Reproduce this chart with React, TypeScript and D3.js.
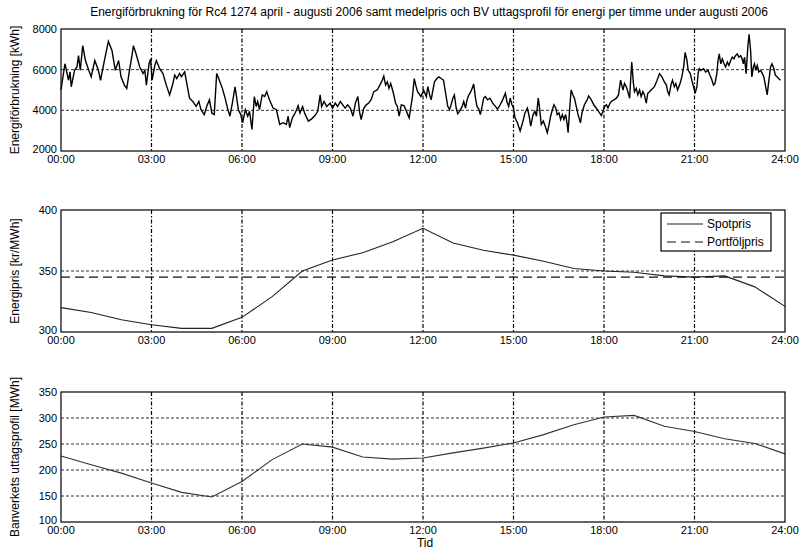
import React from "react";
import * as d3 from "d3";

const TITLE = "Energiförbrukning för Rc4 1274 april - augusti 2006 samt medelpris och BV uttagsprofil för energi per timme under augusti 2006";
const X_TICKS = [0, 3, 6, 9, 12, 15, 18, 21, 24];
const X_TICK_LABELS = ["00:00", "03:00", "06:00", "09:00", "12:00", "15:00", "18:00", "21:00", "24:00"];

const ENERGY_TICKS = [2000, 4000, 6000, 8000];
const PRICE_TICKS = [300, 350, 400];
const PROFILE_TICKS = [100, 150, 200, 250, 300, 350];

// [hour, kWh]
const energy: [number, number][] = [
  [0.00,5000],[0.13,6290],[0.25,5480],[0.30,5890],[0.34,5160],[0.45,5970],[0.53,6130],[0.58,6690],[0.64,5970],[0.72,7180],[0.81,6450],[0.92,5970],[1.00,5650],[1.12,6450],[1.24,5970],[1.31,5480],[1.46,6610],[1.57,7390],[1.69,6940],[1.80,5970],[1.91,6450],[1.99,5650],[2.10,5240],[2.18,5080],[2.27,5970],[2.36,6770],[2.40,7180],[2.49,6770],[2.61,6130],[2.72,5810],[2.78,5970],[2.83,5240],[2.92,6290],[2.97,6530],
  [3.02,5480],[3.11,6210],[3.16,6450],[3.27,6050],[3.38,5810],[3.49,5240],[3.60,4760],[3.71,5320],[3.77,5730],[3.84,5560],[3.93,5810],[3.99,5650],[4.10,5890],[4.15,5480],[4.26,4600],[4.37,4440],[4.48,4190],[4.57,4440],[4.64,4030],[4.75,3790],[4.83,4190],[4.92,4520],[5.00,3870],[5.08,3790],[5.16,5810],[5.25,5480],[5.35,5080],[5.44,4600],[5.52,4110],[5.60,3710],[5.68,4350],[5.77,5160],[5.88,4030],[5.96,3790],
  [6.02,3390],[6.11,4030],[6.19,3710],[6.25,3950],[6.33,3060],[6.41,4680],[6.47,4190],[6.52,4435],[6.58,4030],[6.67,4760],[6.75,4680],[6.82,4920],[6.91,4520],[7.03,4110],[7.14,4030],[7.19,3710],[7.25,3310],[7.36,3390],[7.47,3310],[7.53,3710],[7.58,3150],[7.67,3630],[7.75,3840],[7.81,4030],[7.86,4230],[7.92,3870],[8.01,4190],[8.08,3840],[8.20,3470],[8.31,3580],[8.42,3740],[8.51,3950],[8.59,4760],[8.64,4190],[8.72,4435],[8.81,4190],[8.92,4355],[9.00,4110],[9.09,4355],[9.17,4190],[9.26,4435],[9.34,4270],[9.42,4110],[9.50,4270],[9.59,4110],[9.68,3710],[9.76,4355],[9.84,4680],[9.90,3900],[9.95,3550],[10.04,4110],[10.12,4270],[10.20,4355],[10.28,4520],[10.37,4920],[10.48,5000],[10.57,5240],[10.65,5480],[10.70,5680],[10.76,5240],[10.82,5400],[10.87,5080],[10.93,5320],[11.02,4840],[11.09,4355],[11.15,4190],[11.21,3710],[11.28,4270],[11.37,4230],[11.45,3950],[11.54,3630],[11.60,4190],[11.65,4680],[11.71,5560],[11.76,5240],[11.82,4920],[11.93,4680],[12.02,5000],
  [12.11,4677],[12.16,5161],[12.22,4758],[12.27,4516],[12.33,5000],[12.38,5403],[12.46,5565],[12.53,5645],[12.60,5565],[12.68,5484],[12.75,4839],[12.82,4194],[12.88,4032],[12.93,4274],[12.99,4597],[13.04,4758],[13.10,4113],[13.15,3839],[13.21,3952],[13.30,4194],[13.35,4435],[13.41,4113],[13.46,4516],[13.52,4758],[13.56,4839],[13.63,5081],[13.68,5290],[13.74,4597],[13.79,4194],[13.85,4064],[13.90,3790],[13.96,4194],[14.01,4597],[14.07,4677],[14.14,4516],[14.22,4597],[14.31,4355],[14.40,4194],[14.47,4064],[14.56,4274],[14.64,4516],[14.73,4839],[14.78,4435],[14.84,4194],[14.89,4597],[14.95,4274],[15.00,4113],[15.05,3629],[15.13,3387],[15.22,2984],[15.30,3387],[15.38,3871],[15.46,4113],[15.52,3710],[15.57,3226],[15.65,3790],[15.71,3952],[15.76,3710],[15.82,4597],[15.87,4032],[15.92,3306],[15.99,3468],[16.07,3145],[16.12,2903],[16.18,3306],[16.23,3710],[16.29,4032],[16.34,4274],[16.40,4113],[16.45,3790],[16.51,3871],[16.56,3548],[16.62,3790],[16.67,3548],[16.73,3790],[16.78,3306],[16.81,2903],[16.86,4032],[16.91,5000],[16.97,4758],[17.02,4597],[17.08,4194],[17.14,3790],[17.22,3387],[17.27,3871],[17.35,4274],[17.44,4516],[17.49,4710],[17.58,4516],[17.66,4274],[17.74,4113],[17.82,3952],[17.91,3742],[17.99,4032],
  [18.02,4194],[18.08,4274],[18.13,4113],[18.19,4322],[18.24,4435],[18.33,4516],[18.41,4597],[18.48,4758],[18.55,5484],[18.59,5242],[18.63,5000],[18.68,5323],[18.74,5161],[18.79,4919],[18.85,4597],[18.88,5403],[18.92,6371],[18.97,5403],[19.01,4919],[19.07,5081],[19.12,4758],[19.18,5000],[19.23,4677],[19.29,4919],[19.34,4758],[19.40,4355],[19.45,4839],[19.51,4919],[19.56,5000],[19.62,5081],[19.67,5161],[19.76,5484],[19.84,5806],[19.92,5645],[20.00,5403],[20.07,5242],[20.11,4919],[20.16,4758],[20.22,5242],[20.27,5484],[20.33,5161],[20.38,5323],[20.44,5000],[20.52,5323],[20.58,5645],[20.64,6129],[20.69,6855],[20.75,6452],[20.79,5968],[20.86,5806],[20.91,5484],[20.97,5161],[21.02,4839],[21.08,5161],[21.12,5806],[21.16,6048],[21.21,5968],[21.30,6048],[21.37,5887],[21.45,5968],[21.51,5726],[21.56,5565],[21.63,5242],[21.68,5323],[21.74,5806],[21.78,6452],[21.82,6774],[21.87,6290],[21.92,6532],[21.98,6290],[22.03,6129],[22.09,6371],[22.14,6210],[22.20,6452],[22.25,6613],[22.31,6532],[22.36,6694],[22.42,6774],[22.47,6613],[22.53,6694],[22.58,6532],[22.62,6290],[22.66,6613],[22.71,5806],[22.77,7177],[22.81,7742],[22.86,6935],[22.90,5645],[22.95,6129],[22.99,6290],[23.03,5968],[23.08,6210],[23.13,5887],[23.19,5968],[23.25,5806],[23.30,5645],[23.35,5242],[23.41,4758],[23.46,5403],[23.52,6129],[23.57,6290],[23.63,6048],[23.68,5726],[23.74,5645],[23.79,5565],[23.85,5484],
];

const hours = d3.range(0, 25);
const spotPrice = [320, 316, 310, 306, 303, 303, 312, 329, 350, 359, 365, 374, 385, 373, 367, 363, 358, 352, 350, 349, 346, 345, 346, 337, 321];
const portfolioPrice = 345;
const profile = [227, 210, 194, 175, 157, 148, 178, 220, 250, 244, 225, 221, 223, 233, 242, 252, 268, 287, 302, 305, 284, 274, 260, 251, 231];

const FONT = "'Liberation Sans', Arial, sans-serif";

const X0 = 61, X1 = 785;
const x = d3.scaleLinear().domain([0, 24]).range([X0, X1]);

type PanelProps = {
  y: d3.ScaleLinear<number, number>;
  yTicks: number[];
  hGrid: number[];
  ylabel: string;
  children?: React.ReactNode;
};

function Panel({ y, yTicks, hGrid, ylabel, children }: PanelProps) {
  const [yb, yt] = y.range();
  const cy = (yb + yt) / 2;
  return (
    <g>
      {hGrid.map((v) => (
        <line key={"h" + v} x1={X0} x2={X1} y1={y(v)} y2={y(v)} stroke="#333" strokeWidth={1} strokeDasharray="3,2" />
      ))}
      {X_TICKS.slice(1, -1).map((t) => (
        <line key={"v" + t} x1={x(t)} x2={x(t)} y1={yt} y2={yb} stroke="#000" strokeWidth={1.2} strokeDasharray="4,2,1.5,2" />
      ))}
      {children}
      <rect x={X0} y={yt} width={X1 - X0} height={yb - yt} fill="none" stroke="#000" strokeWidth={1.2} />
      {yTicks.map((v, i) => (
        <text key={"yt" + v} x={X0 - 4} y={y(v) - (i === 0 ? 2 : 0)} dy="0.35em" textAnchor="end" fontSize={11} fontFamily={FONT} fill="#000">
          {v}
        </text>
      ))}
      {X_TICKS.map((t, i) => (
        <text key={"xt" + t} x={x(t)} y={yb + 12} textAnchor="middle" fontSize={11} fontFamily={FONT} fill="#000">
          {X_TICK_LABELS[i]}
        </text>
      ))}
      <text transform={`translate(19,${cy}) rotate(-90)`} textAnchor="middle" fontSize={12} fontFamily={FONT} fill="#000">
        {ylabel}
      </text>
    </g>
  );
}

export default function App() {
  const yE = d3.scaleLinear().domain([2000, 8000]).range([151, 29]);
  const yP = d3.scaleLinear().domain([300, 400]).range([332, 210]);
  const yB = d3.scaleLinear().domain([100, 350]).range([522, 392]);

  const eLine = d3.line<[number, number]>().x((d) => x(d[0])).y((d) => yE(d[1]))(energy) || "";
  const spotLine = d3.line<number>().x((_, i) => x(hours[i])).y((d) => yP(d))(spotPrice) || "";
  const profLine = d3.line<number>().x((_, i) => x(hours[i])).y((d) => yB(d))(profile) || "";

  return (
    <svg width={803} height={557} style={{ position: "absolute", left: 0, top: 0, background: "#fff" }}>
      <rect width={803} height={557} fill="#fff" />
      <text x={(X0 + X1) / 2 + 6} y={16} textAnchor="middle" fontSize={12} fontFamily={FONT} fill="#000">
        {TITLE}
      </text>

      <Panel y={yE} yTicks={ENERGY_TICKS} hGrid={[4000, 6000]} ylabel="Energiförbrukning [kWh]">
        <path d={eLine} fill="none" stroke="#000" strokeWidth={1.4} />
      </Panel>

      <Panel y={yP} yTicks={PRICE_TICKS} hGrid={[350]} ylabel="Energipris [kr/MWh]">
        <line x1={X0} x2={X1} y1={yP(portfolioPrice)} y2={yP(portfolioPrice)} stroke="#111" strokeWidth={1.2} strokeDasharray="9,5" />
        <path d={spotLine} fill="none" stroke="#222" strokeWidth={1.1} />
        <g>
          <rect x={661} y={213} width={110} height={38} fill="#fff" stroke="#000" strokeWidth={1.2} />
          <line x1={667} x2={703} y1={224} y2={224} stroke="#222" strokeWidth={1.1} />
          <text x={707} y={224} dy="0.35em" fontSize={12} fontFamily={FONT} fill="#000">Spotpris</text>
          <line x1={667} x2={703} y1={242} y2={242} stroke="#111" strokeWidth={1.2} strokeDasharray="9,5" />
          <text x={707} y={242} dy="0.35em" fontSize={12} fontFamily={FONT} fill="#000">Portföljpris</text>
        </g>
      </Panel>

      <Panel y={yB} yTicks={PROFILE_TICKS} hGrid={[150, 200, 250, 300]} ylabel="Banverkets uttagsprofil [MWh]">
        <path d={profLine} fill="none" stroke="#333" strokeWidth={1.1} />
      </Panel>

      <text x={x(12) + 2} y={547} textAnchor="middle" fontSize={12} fontFamily={FONT} fill="#000">Tid</text>
    </svg>
  );
}
